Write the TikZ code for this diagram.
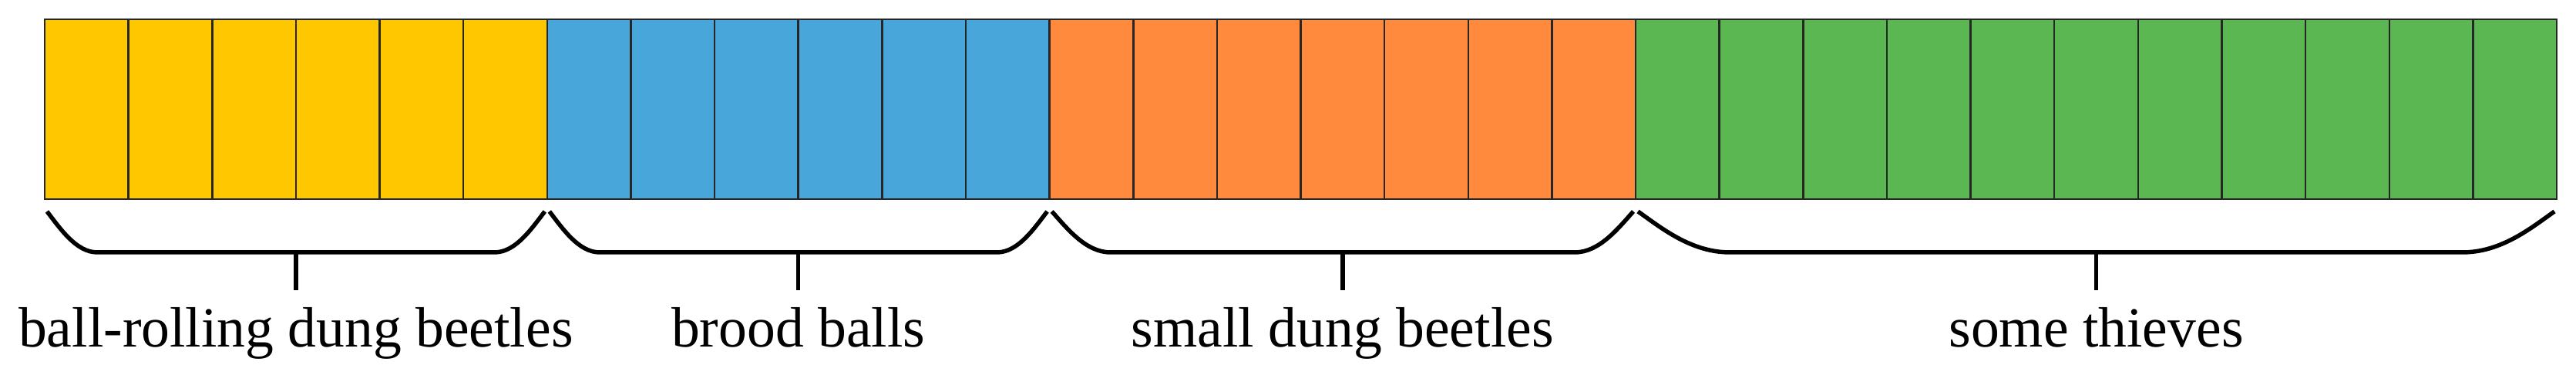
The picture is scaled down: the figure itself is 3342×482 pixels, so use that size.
\documentclass[tikz,border=0pt]{standalone}
\usepackage{fontspec}
\setmainfont{Liberation Serif}
\usetikzlibrary{calc}
\definecolor{cyellow}{RGB}{255,199,0}
\definecolor{cblue}{RGB}{72,166,219}
\definecolor{corange}{RGB}{255,138,61}
\definecolor{cgreen}{RGB}{91,183,82}
\tikzset{
  cell/.style={draw=black!85,line width=0.25pt},
  bracestyle/.style={draw=black,line width=0.55pt,line cap=butt},
  lab/.style={anchor=base,inner sep=0pt,font=\fontsize{7.36}{8.8}\selectfont}
}
\begin{document}
\begin{tikzpicture}[x=0.1pt,y=-0.1pt]
\useasboundingbox (0,0) rectangle (3342,482);
\def\cw{108.633}
% cells
\foreach \c/\a/\b in {cyellow/0/5,cblue/6/11,corange/12/18,cgreen/19/29}{
  \foreach \i in {\a,...,\b}{
    \path[cell,fill=\c] ({58+\i*\cw},25) rectangle ({58+(\i+1)*\cw},258);
  }
}
% braces and labels
\foreach \xa/\xb/\t/\n in {58/709.8/ball-rolling dung beetles/A,
                            709.8/1361.6/brood balls/B,
                            1361.6/2122.0/small dung beetles/C,
                            2122.0/3317.0/some thieves/D}{
  \pgfmathsetmacro\w{0.1*(\xb-\xa)}
  \pgfmathsetmacro\pa{\xa+3}
  \pgfmathsetmacro\pb{\xb-3}
  \pgfmathsetmacro\m{(\xa+\xb)/2}
  \coordinate (tipL\n) at (\pa,274);
  \coordinate (tipR\n) at (\pb,274);
  \coordinate (flatL\n) at (\pa+\w,327);
  \coordinate (flatR\n) at (\pb-\w,327);
  \coordinate (mid\n) at (\m,327);
  \coordinate (tick\n) at (\m,376);
  \draw[bracestyle] (tipL\n) .. controls ($(tipL\n)+(0.26*\w,22)$) and ($(flatL\n)+(-0.42*\w,0)$) .. (flatL\n)
     -- (flatR\n) .. controls ($(flatR\n)+(0.42*\w,0)$) and ($(tipR\n)+(-0.26*\w,22)$) .. (tipR\n);
  \draw[bracestyle] (mid\n) -- (tick\n);
  \node[lab] (label\n) at (\m,450) {\t};
}
\end{tikzpicture}
\end{document}
